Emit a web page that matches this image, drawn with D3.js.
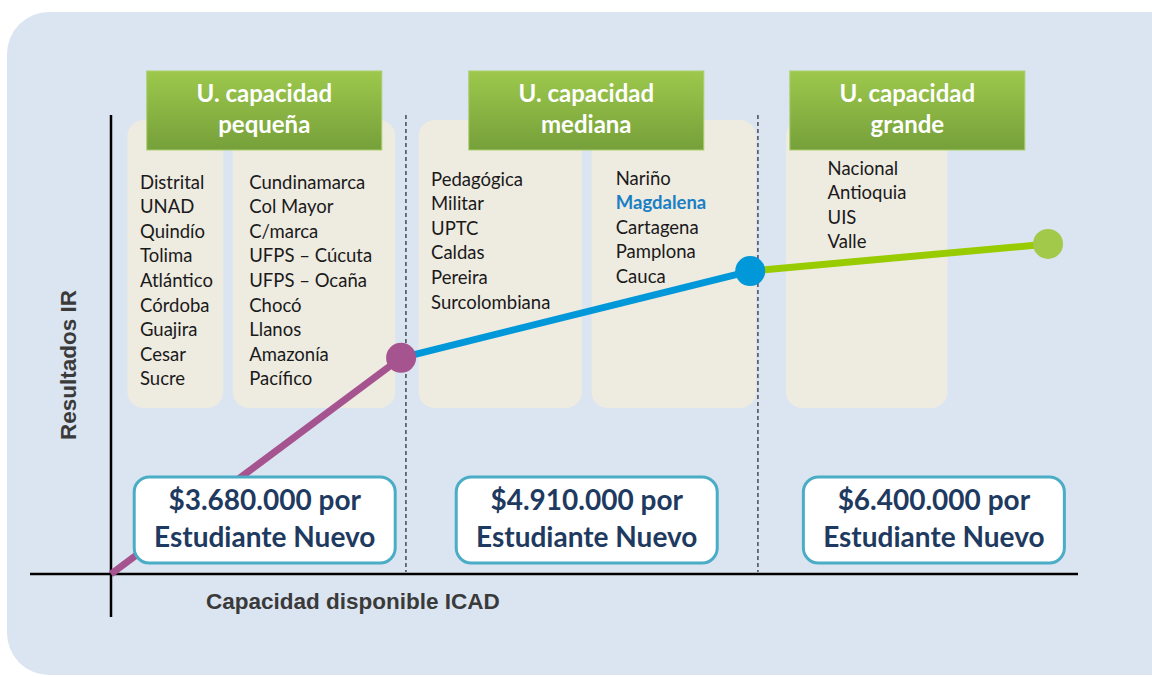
<!doctype html>
<html>
<meta charset="UTF-8">
<head>
<title>Capacidad ICAD</title>
<script src="https://cdn.jsdelivr.net/npm/d3@7"></script>
<style>
  body { margin:0; background:#ffffff; }
  svg { display:block; }
  .lista { font-family: Lato, 'Open Sans', sans-serif; font-size:18.5px; }
  .cab { font-family: Lato, 'Open Sans', sans-serif; font-weight:bold; font-size:24px; fill:#ffffff; }
  .precio { font-family: Lato, 'Open Sans', sans-serif; font-weight:bold; font-size:28px; fill:#1f3a60; }
  .eje { font-family: 'Liberation Sans', Arial, sans-serif; font-weight:bold; font-size:22.5px; fill:#3a3a3a; }
</style>
</head>
<body>
<script>
// puntos de la curva (unidades arbitrarias)
var icad = [0, 3.0, 6.61, 9.69];
var resultadoIR = [0, 4.71, 6.6, 7.19];
var colores = ["#a5548f", "#0098d8", "#99cc00"];
var coloresPunto = ["#a5548f", "#0098d8", "#a3c94a"];

// limites entre grupos
var cortes = [3.05, 6.69];

var grupos = ["U. capacidad|pequeña", "U. capacidad|mediana", "U. capacidad|grande"];
var precios = ["$3.680.000 por", "$4.910.000 por", "$6.400.000 por"];

var col1 = ["Distrital","UNAD","Quindío","Tolima","Atlántico","Córdoba","Guajira","Cesar","Sucre"];
var col2 = ["Cundinamarca","Col Mayor","C/marca","UFPS – Cúcuta","UFPS – Ocaña","Chocó","Llanos","Amazonía","Pacífico"];
var col3 = ["Pedagógica","Militar","UPTC","Caldas","Pereira","Surcolombiana"];
var col4 = ["Nariño","Magdalena","Cartagena","Pamplona","Cauca"];
var col5 = ["Nacional","Antioquia","UIS","Valle"];
var destacada = "Magdalena";

var W = 1152, H = 677;
var svg = d3.select("body").append("svg").attr("width", W).attr("height", H);

var defs = svg.append("defs");
var grad = defs.append("linearGradient").attr("id","verde").attr("x1",0).attr("y1",0).attr("x2",0).attr("y2",1);
grad.append("stop").attr("offset","0%").attr("stop-color","#9dc84c");
grad.append("stop").attr("offset","100%").attr("stop-color","#76a03a");

// fondo
svg.append("rect").attr("x",7).attr("y",12).attr("width",1190).attr("height",663)
  .attr("rx",42).attr("fill","#dbe5f1");

var x = d3.scaleLinear().domain([0,10]).range([111,1078]);
var y = d3.scaleLinear().domain([0,10]).range([574,115]);

// columnas beige
var columnas = [
  {x0:0.17, x1:1.16, filas:col1, tx:0.30, ty:182},
  {x0:1.26, x1:2.94, filas:col2, tx:1.43, ty:182},
  {x0:3.18, x1:4.87, filas:col3, tx:3.31, ty:179},
  {x0:4.97, x1:6.67, filas:col4, tx:5.22, ty:178},
  {x0:6.98, x1:8.65, filas:col5, tx:7.41, ty:168}
];

columnas.forEach(function(c){
  svg.append("rect").attr("x",x(c.x0)).attr("y",120).attr("width",x(c.x1)-x(c.x0)).attr("height",288)
    .attr("rx",16).attr("fill","#eeebe1");
});

// lineas punteadas
svg.selectAll(".corte").data(cortes).enter().append("line")
  .attr("x1",function(d){return x(d);}).attr("x2",function(d){return x(d);})
  .attr("y1",115).attr("y2",572)
  .attr("stroke","#333").attr("stroke-width",1.3).attr("stroke-dasharray","4,3");

// cabeceras verdes
var cabX = [0.37, 3.70, 7.02];
grupos.forEach(function(g,i){
  var gx = x(cabX[i]);
  svg.append("rect").attr("x",gx).attr("y",71).attr("width",235).attr("height",79)
    .attr("fill","url(#verde)").attr("stroke","#a9cf6a").attr("stroke-width",1);
  var partes = g.split("|");
  partes.forEach(function(p,j){
    svg.append("text").attr("class","cab").attr("x",gx+117.5).attr("y",102+j*31)
      .attr("text-anchor","middle").text(p);
  });
});

// listas
columnas.forEach(function(c){
  svg.append("g").selectAll("text").data(c.filas).enter().append("text")
    .attr("class","lista")
    .attr("x",x(c.tx)).attr("y",function(d,i){return c.ty+6.5+i*24.6;})
    .style("fill",function(d){return d==destacada ? "#1a7fc4" : "#1a1a1a";})
    .style("font-weight",function(d){return d==destacada ? "bold" : "normal";})
    .text(function(d){return d;});
});

// ejes
svg.append("line").attr("x1",30).attr("x2",x(10)).attr("y1",y(0)).attr("y2",y(0))
  .attr("stroke","#000").attr("stroke-width",2.5);
svg.append("line").attr("x1",x(0)).attr("x2",x(0)).attr("y1",y(10)).attr("y2",617)
  .attr("stroke","#000").attr("stroke-width",2.5);

// tramos de la curva
var tramos = d3.range(3).map(function(i){
  return {a:[icad[i],resultadoIR[i]], b:[icad[i+1],resultadoIR[i+1]], c:colores[i]};
});
svg.selectAll(".tramo").data(tramos).enter().append("line")
  .attr("x1",function(d){return x(d.a[0]);}).attr("y1",function(d){return y(d.a[1]);})
  .attr("x2",function(d){return x(d.b[0]);}).attr("y2",function(d){return y(d.b[1]);})
  .attr("stroke",function(d){return d.c;}).attr("stroke-width",7);

// cajas de precio
var precioX = [0.24, 3.57, 7.16];
precios.forEach(function(p,i){
  var bx = x(precioX[i]);
  svg.append("rect").attr("x",bx).attr("y",477).attr("width",261).attr("height",86)
    .attr("rx",15).attr("fill","#ffffff").attr("stroke","#4bacc6").attr("stroke-width",3);
  svg.append("text").attr("class","precio").attr("x",bx+130.5).attr("y",510)
    .attr("text-anchor","middle").text(p);
  svg.append("text").attr("class","precio").attr("x",bx+130.5).attr("y",547)
    .attr("text-anchor","middle").text("Estudiante Nuevo");
});

// puntos
svg.selectAll(".punto").data(icad.slice(1)).enter().append("circle")
  .attr("cx",function(d){return x(d);})
  .attr("cy",function(d,i){return y(resultadoIR[i+1]);})
  .attr("r",15).attr("fill",function(d,i){return coloresPunto[i];});

// titulos de ejes
svg.append("text").attr("class","eje").attr("x",206).attr("y",609).text("Capacidad disponible ICAD");
svg.append("text").attr("class","eje").attr("transform","translate(76,365) rotate(-90)")
  .attr("text-anchor","middle").text("Resultados IR");
</script>
</body>
</html>
